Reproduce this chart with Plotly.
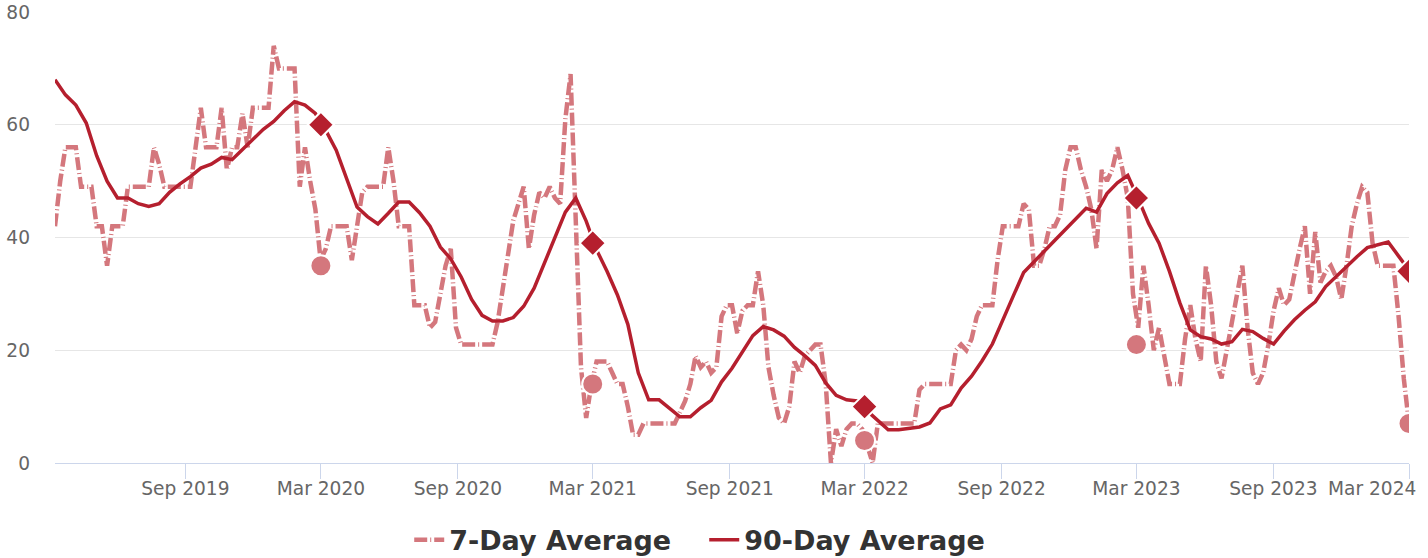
import pandas as pd
import plotly.graph_objects as go

START = "2019-03-10"
END = "2024-03-01"

# 7-day average, sampled weekly from START to END
avg7 = [
    42, 50, 56, 56, 56, 49, 49, 49, 42, 42, 35, 42, 42, 42, 49, 49, 49, 49, 49, 56,
    53, 49, 49, 49, 49, 49, 49, 56, 63, 56, 56, 56, 63, 52, 56, 56, 62, 56, 63, 63,
    63, 63, 74, 70, 70, 70, 70, 49, 56, 50, 45, 36, 38, 42, 42, 42, 42, 36, 42, 48,
    49, 49, 49, 49, 56, 50, 42, 42, 42, 28, 28, 28, 24, 25, 30, 35, 38, 24, 21, 21,
    21, 21, 21, 21, 21, 25, 31, 38, 43, 46, 49, 38, 44, 48, 47, 49, 47, 46, 61, 69,
    40, 17, 8, 14, 18, 18, 18, 16, 14, 14, 10, 5, 5, 7, 7, 7, 7, 7, 7, 7,
    9, 11, 14, 19, 17, 18, 16, 17, 26, 28, 28, 23, 27, 28, 28, 34, 28, 17, 12, 8,
    7, 10, 18, 16, 19, 20, 21, 21, 14, 0, 6, 3, 6, 7, 7, 6, 3, 0, 7, 7,
    7, 7, 7, 7, 7, 7, 13, 14, 14, 14, 14, 14, 14, 20, 21, 20, 22, 26, 28, 28,
    28, 36, 42, 42, 42, 42, 46, 45, 35, 35, 38, 42, 42, 44, 52, 56, 56, 52, 49, 45,
    38, 52, 50, 52, 56, 52, 47, 30, 24, 35, 28, 20, 24, 19, 14, 14, 14, 22, 28, 22,
    18, 35, 28, 18, 15, 20, 25, 30, 35, 24, 16, 14, 16, 21, 27, 31, 28, 29, 34, 38,
    42, 30, 41, 32, 34, 35, 33, 29, 35, 42, 46, 49, 48, 39, 35, 35, 35, 35, 26, 15,
    7,
]

# 90-day average, sampled every two weeks from START to END
avg90 = [
    68, 65.3, 63.5, 60.3, 54.5, 50, 47, 47, 46, 45.5,
    46, 48, 49.5, 50.8, 52.3, 53, 54.2, 53.8, 55.6, 57.4,
    59.2, 60.6, 62.5, 64.1, 63.5, 62, 59, 55.5, 50.5, 45.4,
    43.7, 42.4, 44.3, 46.3, 46.3, 44.4, 42, 38.3, 36.2, 33,
    29, 26.2, 25.2, 25.2, 25.8, 27.8, 31, 35.5, 40.2, 44.5,
    47, 42.9, 37.8, 34, 29.8, 24.6, 16, 11.2, 11.2, 9.7,
    8.2, 8.2, 9.8, 11.1, 14.4, 16.8, 19.7, 22.6, 24.2, 23.6,
    22.5, 20.5, 19, 17.3, 14.2, 12, 11.2, 11, 9.2, 7.6,
    5.9, 5.9, 6.2, 6.4, 7.1, 9.6, 10.3, 13.3, 15.4, 18.1,
    21.1, 25.5, 29.6, 33.8, 35.6, 37.6, 39.5, 41.4, 43.3, 45.2,
    44.5, 47.8, 49.7, 51, 46.9, 42.5, 39, 34, 28.4, 23.6,
    22.4, 22, 21.1, 21.5, 23.7, 23.3, 22.1, 21.1, 23.4, 25.4,
    27.1, 28.6, 31.3, 33.1, 34.8, 36.6, 38.2, 38.7, 39.2, 36.7,
    34.2,
]

# yearly highlighted points
mark_dates = ["2020-03-01", "2021-03-01", "2022-03-01", "2023-03-01", "2024-03-01"]
mark7 = [35, 14, 4, 21, 7]
mark90 = [60, 39, 10, 47, 34]

tick_dates = ["2019-09-01", "2020-03-01", "2020-09-01", "2021-03-01", "2021-09-01",
              "2022-03-01", "2022-09-01", "2023-03-01", "2023-09-01", "2024-03-01"]
tick_text = ["Sep 2019", "Mar 2020", "Sep 2020", "Mar 2021", "Sep 2021",
             "Mar 2022", "Sep 2022", "Mar 2023", "Sep 2023", ""]
last_tick_text = "Mar 2024"

C7 = "#d4777d"
C90 = "#b51f2e"
FONT = "DejaVu Sans"
TICK_SIZE = 18.6
GAP = "\u00a0\u00a0\u00a0"  # spacing after the first legend entry

dates7 = pd.date_range(START, END, periods=len(avg7))
dates90 = pd.date_range(START, END, periods=len(avg90))

fig = go.Figure()
fig.add_trace(go.Scatter(
    x=dates7, y=avg7, mode="lines", name="7-Day Average" + GAP,
    line=dict(color=C7, width=4.5, dash="13px,3px,1px,3px"),
    hoverinfo="skip",
))
fig.add_trace(go.Scatter(
    x=dates90, y=avg90, mode="lines", name="90-Day Average",
    line=dict(color=C90, width=3.5),
    hoverinfo="skip",
))
fig.add_trace(go.Scatter(
    x=pd.to_datetime(mark_dates), y=mark7, mode="markers", showlegend=False,
    marker=dict(symbol="circle", size=21, color=C7, line=dict(color="white", width=2)),
    hoverinfo="skip",
))
fig.add_trace(go.Scatter(
    x=pd.to_datetime(mark_dates), y=mark90, mode="markers", showlegend=False,
    marker=dict(symbol="diamond", size=20, color=C90, line=dict(color="white", width=2)),
    hoverinfo="skip",
))

fig.update_layout(
    width=1428, height=558,
    margin=dict(l=55, r=19, t=12, b=95, autoexpand=False),
    paper_bgcolor="white", plot_bgcolor="white",
    font=dict(family=FONT, color="#666666", size=TICK_SIZE),
    showlegend=True,
    legend=dict(
        orientation="h", xref="container", x=0.49, xanchor="center",
        yref="container", y=0.032, yanchor="middle",
        font=dict(family=FONT, size=27, color="#333333", weight="bold"),
        itemwidth=30,
    ),
    xaxis=dict(
        type="date", range=[START, END], automargin=False,
        tickvals=pd.to_datetime(tick_dates), ticktext=tick_text,
        ticks="outside", ticklen=15, tickcolor="#ccd6eb", tickwidth=1,
        showline=True, linecolor="#ccd6eb", linewidth=1,
        showgrid=False, zeroline=False,
        ticklabelstandoff=-6,
        tickfont=dict(family=FONT, size=TICK_SIZE, color="#666666"),
    ),
    yaxis=dict(
        range=[0, 80], tickvals=[0, 20, 40, 60, 80], automargin=False,
        showgrid=True, gridcolor="#e6e6e6", gridwidth=1,
        zeroline=False, showline=False, ticks="",
        ticklabelstandoff=24,
        tickfont=dict(family=FONT, size=TICK_SIZE, color="#666666"),
    ),
    annotations=[dict(
        x=END, y=0, xref="x", yref="y", text=last_tick_text,
        showarrow=False, xanchor="right", yanchor="top", xshift=9, yshift=-13,
        font=dict(family=FONT, size=TICK_SIZE, color="#666666"),
    )],
)

fig.write_html(
    "out.html",
    config={"displayModeBar": False},
    post_script="document.body.style.margin='0';",
)
